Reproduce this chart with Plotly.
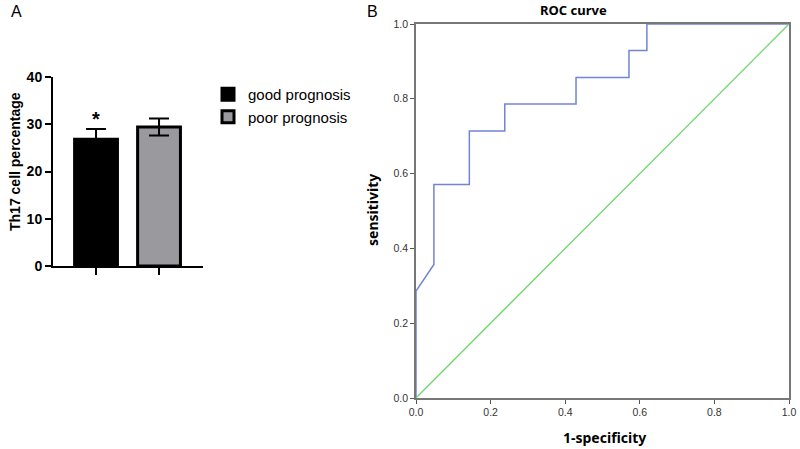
import plotly.graph_objects as go

# panel A: Th17 cell percentage by prognosis group
groups = ["good prognosis", "poor prognosis"]
means = [26.8, 29.4]
errors = [2.2, 1.8]
bar_colors = ["#000000", "#9a9a9e"]

# panel B: ROC curve (1-specificity, sensitivity)
fpr = [0.0, 0.0, 0.048, 0.048, 0.143, 0.143, 0.238, 0.238, 0.429, 0.429,
       0.571, 0.571, 0.619, 0.619, 1.0]
tpr = [0.0, 0.286, 0.357, 0.571, 0.571, 0.714, 0.714, 0.786, 0.786, 0.857,
       0.857, 0.929, 0.929, 1.0, 1.0]
ref_line = [0.0, 1.0]

# positions below are given in screenshot pixels
W, H = 800, 449
px = lambda v: v / W
py = lambda v: 1 - v / H

fig = go.Figure()

for g, m, e, c in zip(groups, means, errors, bar_colors):
    fig.add_trace(go.Bar(
        x=[g], y=[m], name=g, width=0.68,
        marker=dict(color=c, line=dict(color="black", width=3)),
        error_y=dict(type="data", array=[e], color="black", thickness=2, width=10),
        xaxis="x", yaxis="y",
    ))

fig.add_trace(go.Scatter(
    x=fpr, y=tpr, mode="lines", line=dict(color="#7185d6", width=1.5),
    xaxis="x2", yaxis="y2", showlegend=False, hoverinfo="skip",
))
fig.add_trace(go.Scatter(
    x=ref_line, y=ref_line, mode="lines", line=dict(color="#6fd66f", width=1.3),
    xaxis="x2", yaxis="y2", showlegend=False, hoverinfo="skip",
))


def note(text, x, y, size, angle=0, family="Liberation Sans, Arial", **kw):
    return dict(text=text, x=x, y=y, xref="paper", yref="paper", showarrow=False,
                xanchor="center", yanchor="middle", textangle=angle,
                font=dict(size=size, family=family), **kw)


fig.update_layout(
    width=W, height=H,
    margin=dict(l=0, r=0, t=0, b=0, autoexpand=False),
    plot_bgcolor="white", paper_bgcolor="white",
    font=dict(family="Liberation Sans, Arial", color="black"),
    xaxis=dict(
        domain=[px(53), px(203)], range=[-0.683, 1.698],
        showticklabels=False, ticks="outside", ticklen=7, tickwidth=2,
        tickcolor="black", showline=True, linecolor="black", linewidth=2,
        showgrid=False, zeroline=False, anchor="y",
    ),
    yaxis=dict(
        domain=[py(266), py(77)], range=[0, 40], tickvals=[0, 10, 20, 30, 40],
        ticks="outside", ticklen=6, tickwidth=2, tickcolor="black",
        showline=True, linecolor="black", linewidth=2, showgrid=False,
        zeroline=False, tickfont=dict(size=14, weight="bold"),
        anchor="x",
    ),
    xaxis2=dict(
        domain=[px(416), px(789)], range=[0, 1], tickvals=[0, 0.2, 0.4, 0.6, 0.8, 1.0],
        tickformat=".1f", ticks="outside", ticklen=4, tickcolor="#555",
        showline=True, mirror=True, linecolor="#777", linewidth=1.5,
        showgrid=False, zeroline=False, tickfont=dict(size=10.5, color="#333"),
        anchor="y2",
    ),
    yaxis2=dict(
        domain=[py(398), py(24)], range=[0, 1], tickvals=[0, 0.2, 0.4, 0.6, 0.8, 1.0],
        tickformat=".1f", ticks="outside", ticklen=4, tickcolor="#555",
        showline=True, mirror=True, linecolor="#777", linewidth=1.5,
        showgrid=False, zeroline=False, tickfont=dict(size=10.5, color="#333"),
        anchor="x2",
    ),
    legend=dict(
        x=px(208), y=py(78), xanchor="left", yanchor="top",
        font=dict(size=15), itemwidth=30, tracegroupgap=8, bgcolor="rgba(0,0,0,0)",
    ),
    annotations=[
        note("A", px(16), py(11), 16),
        note("B", px(372), py(11), 16),
        dict(text="*", x=groups[0], y=means[0] + errors[0] + 2.2, xref="x", yref="y",
             showarrow=False, xanchor="center", yanchor="middle",
             font=dict(size=20, family="Liberation Sans", weight="bold")),
        note("<b>Th17 cell percentage</b>", px(15), py(162), 14, angle=-90),
        note("<b>ROC curve</b>", px(573), py(10), 13, family="Noto Sans"),
        note("<b>1-specificity</b>", px(604), py(437), 14, family="Noto Sans"),
        note("<b>sensitivity</b>", px(372), py(210), 14, angle=-90, family="Noto Sans"),
    ],
)

# drop the browser's default 8px body margin so the figure sits at the page corner
fig.write_html("out.html", config={"displayModeBar": False},
               post_script="document.body.style.margin = '0';")
